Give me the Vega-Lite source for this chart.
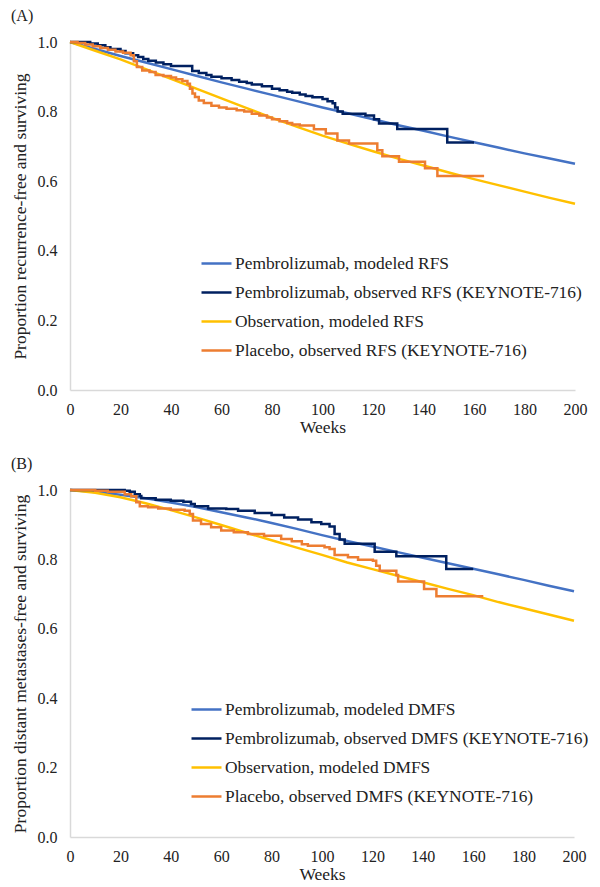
{
  "$schema": "https://vega.github.io/schema/vega-lite/v6.json",
  "padding": {"left": 11, "top": 8, "right": 2, "bottom": 4},
  "background": "white",
  "config": {
    "font": "Liberation Serif",
    "view": {"stroke": null},
    "axis": {"grid": false, "ticks": false, "labelFlush": false, "domainColor": "#d9d9d9", "domainWidth": 1.5, "labelFont": "Liberation Serif", "labelFontSize": 16, "labelColor": "#222222", "titleFont": "Liberation Serif", "titleFontSize": 17.5, "titleFontWeight": "normal", "titleColor": "#222222"},
    "legend": {"labelFont": "Liberation Serif", "labelFontSize": 17.4, "labelColor": "#222222", "labelLimit": 600, "symbolType": "stroke", "symbolSize": 900, "symbolStrokeWidth": 2.5, "labelOffset": 2, "rowPadding": 4, "padding": 0},
    "title": {"font": "Liberation Serif", "fontSize": 16, "fontWeight": "normal", "anchor": "start", "frame": "bounds", "color": "#222222", "offset": 10},
    "concat": {"spacing": 20}
  },
  "resolve": {"scale": {"color": "independent"}, "legend": {"color": "independent"}},
  "datasets": {
    "modeled": [
      {"panel": "A", "series": "Pembrolizumab, modeled RFS", "week": 0, "s": 1.0},
      {"panel": "A", "series": "Pembrolizumab, modeled RFS", "week": 10, "s": 0.980},
      {"panel": "A", "series": "Pembrolizumab, modeled RFS", "week": 20, "s": 0.960},
      {"panel": "A", "series": "Pembrolizumab, modeled RFS", "week": 30, "s": 0.941},
      {"panel": "A", "series": "Pembrolizumab, modeled RFS", "week": 40, "s": 0.922},
      {"panel": "A", "series": "Pembrolizumab, modeled RFS", "week": 50, "s": 0.903},
      {"panel": "A", "series": "Pembrolizumab, modeled RFS", "week": 60, "s": 0.884},
      {"panel": "A", "series": "Pembrolizumab, modeled RFS", "week": 70, "s": 0.866},
      {"panel": "A", "series": "Pembrolizumab, modeled RFS", "week": 80, "s": 0.848},
      {"panel": "A", "series": "Pembrolizumab, modeled RFS", "week": 90, "s": 0.830},
      {"panel": "A", "series": "Pembrolizumab, modeled RFS", "week": 100, "s": 0.812},
      {"panel": "A", "series": "Pembrolizumab, modeled RFS", "week": 110, "s": 0.795},
      {"panel": "A", "series": "Pembrolizumab, modeled RFS", "week": 120, "s": 0.778},
      {"panel": "A", "series": "Pembrolizumab, modeled RFS", "week": 130, "s": 0.761},
      {"panel": "A", "series": "Pembrolizumab, modeled RFS", "week": 140, "s": 0.745},
      {"panel": "A", "series": "Pembrolizumab, modeled RFS", "week": 150, "s": 0.728},
      {"panel": "A", "series": "Pembrolizumab, modeled RFS", "week": 160, "s": 0.712},
      {"panel": "A", "series": "Pembrolizumab, modeled RFS", "week": 170, "s": 0.696},
      {"panel": "A", "series": "Pembrolizumab, modeled RFS", "week": 180, "s": 0.680},
      {"panel": "A", "series": "Pembrolizumab, modeled RFS", "week": 190, "s": 0.665},
      {"panel": "A", "series": "Pembrolizumab, modeled RFS", "week": 200, "s": 0.650},
      {"panel": "A", "series": "Observation, modeled RFS", "week": 0, "s": 1.0},
      {"panel": "A", "series": "Observation, modeled RFS", "week": 10, "s": 0.975},
      {"panel": "A", "series": "Observation, modeled RFS", "week": 20, "s": 0.950},
      {"panel": "A", "series": "Observation, modeled RFS", "week": 30, "s": 0.922},
      {"panel": "A", "series": "Observation, modeled RFS", "week": 40, "s": 0.894},
      {"panel": "A", "series": "Observation, modeled RFS", "week": 50, "s": 0.866},
      {"panel": "A", "series": "Observation, modeled RFS", "week": 60, "s": 0.838},
      {"panel": "A", "series": "Observation, modeled RFS", "week": 70, "s": 0.810},
      {"panel": "A", "series": "Observation, modeled RFS", "week": 80, "s": 0.782},
      {"panel": "A", "series": "Observation, modeled RFS", "week": 90, "s": 0.756},
      {"panel": "A", "series": "Observation, modeled RFS", "week": 100, "s": 0.731},
      {"panel": "A", "series": "Observation, modeled RFS", "week": 110, "s": 0.708},
      {"panel": "A", "series": "Observation, modeled RFS", "week": 120, "s": 0.686},
      {"panel": "A", "series": "Observation, modeled RFS", "week": 130, "s": 0.665},
      {"panel": "A", "series": "Observation, modeled RFS", "week": 140, "s": 0.645},
      {"panel": "A", "series": "Observation, modeled RFS", "week": 150, "s": 0.625},
      {"panel": "A", "series": "Observation, modeled RFS", "week": 160, "s": 0.606},
      {"panel": "A", "series": "Observation, modeled RFS", "week": 170, "s": 0.588},
      {"panel": "A", "series": "Observation, modeled RFS", "week": 180, "s": 0.570},
      {"panel": "A", "series": "Observation, modeled RFS", "week": 190, "s": 0.552},
      {"panel": "A", "series": "Observation, modeled RFS", "week": 200, "s": 0.535},
      {"panel": "B", "series": "Pembrolizumab, modeled DMFS", "week": 0, "s": 1.0},
      {"panel": "B", "series": "Pembrolizumab, modeled DMFS", "week": 10, "s": 0.994},
      {"panel": "B", "series": "Pembrolizumab, modeled DMFS", "week": 20, "s": 0.986},
      {"panel": "B", "series": "Pembrolizumab, modeled DMFS", "week": 30, "s": 0.976},
      {"panel": "B", "series": "Pembrolizumab, modeled DMFS", "week": 40, "s": 0.964},
      {"panel": "B", "series": "Pembrolizumab, modeled DMFS", "week": 50, "s": 0.951},
      {"panel": "B", "series": "Pembrolizumab, modeled DMFS", "week": 60, "s": 0.936},
      {"panel": "B", "series": "Pembrolizumab, modeled DMFS", "week": 70, "s": 0.921},
      {"panel": "B", "series": "Pembrolizumab, modeled DMFS", "week": 80, "s": 0.905},
      {"panel": "B", "series": "Pembrolizumab, modeled DMFS", "week": 90, "s": 0.888},
      {"panel": "B", "series": "Pembrolizumab, modeled DMFS", "week": 100, "s": 0.870},
      {"panel": "B", "series": "Pembrolizumab, modeled DMFS", "week": 110, "s": 0.853},
      {"panel": "B", "series": "Pembrolizumab, modeled DMFS", "week": 120, "s": 0.837},
      {"panel": "B", "series": "Pembrolizumab, modeled DMFS", "week": 130, "s": 0.821},
      {"panel": "B", "series": "Pembrolizumab, modeled DMFS", "week": 140, "s": 0.805},
      {"panel": "B", "series": "Pembrolizumab, modeled DMFS", "week": 150, "s": 0.789},
      {"panel": "B", "series": "Pembrolizumab, modeled DMFS", "week": 160, "s": 0.773},
      {"panel": "B", "series": "Pembrolizumab, modeled DMFS", "week": 170, "s": 0.757},
      {"panel": "B", "series": "Pembrolizumab, modeled DMFS", "week": 180, "s": 0.741},
      {"panel": "B", "series": "Pembrolizumab, modeled DMFS", "week": 190, "s": 0.724},
      {"panel": "B", "series": "Pembrolizumab, modeled DMFS", "week": 200, "s": 0.708},
      {"panel": "B", "series": "Observation, modeled DMFS", "week": 0, "s": 1.0},
      {"panel": "B", "series": "Observation, modeled DMFS", "week": 10, "s": 0.992},
      {"panel": "B", "series": "Observation, modeled DMFS", "week": 20, "s": 0.979},
      {"panel": "B", "series": "Observation, modeled DMFS", "week": 30, "s": 0.962},
      {"panel": "B", "series": "Observation, modeled DMFS", "week": 40, "s": 0.942},
      {"panel": "B", "series": "Observation, modeled DMFS", "week": 50, "s": 0.921},
      {"panel": "B", "series": "Observation, modeled DMFS", "week": 60, "s": 0.899},
      {"panel": "B", "series": "Observation, modeled DMFS", "week": 70, "s": 0.877},
      {"panel": "B", "series": "Observation, modeled DMFS", "week": 80, "s": 0.855},
      {"panel": "B", "series": "Observation, modeled DMFS", "week": 90, "s": 0.834},
      {"panel": "B", "series": "Observation, modeled DMFS", "week": 100, "s": 0.813},
      {"panel": "B", "series": "Observation, modeled DMFS", "week": 110, "s": 0.791},
      {"panel": "B", "series": "Observation, modeled DMFS", "week": 120, "s": 0.772},
      {"panel": "B", "series": "Observation, modeled DMFS", "week": 130, "s": 0.753},
      {"panel": "B", "series": "Observation, modeled DMFS", "week": 140, "s": 0.734},
      {"panel": "B", "series": "Observation, modeled DMFS", "week": 150, "s": 0.715},
      {"panel": "B", "series": "Observation, modeled DMFS", "week": 160, "s": 0.697},
      {"panel": "B", "series": "Observation, modeled DMFS", "week": 170, "s": 0.677},
      {"panel": "B", "series": "Observation, modeled DMFS", "week": 180, "s": 0.659},
      {"panel": "B", "series": "Observation, modeled DMFS", "week": 190, "s": 0.641},
      {"panel": "B", "series": "Observation, modeled DMFS", "week": 200, "s": 0.623}
    ],
    "observed": [
      {"panel": "A", "series": "Pembrolizumab, observed RFS (KEYNOTE-716)", "week": 0, "s": 1.0},
      {"panel": "A", "series": "Pembrolizumab, observed RFS (KEYNOTE-716)", "week": 8, "s": 0.996},
      {"panel": "A", "series": "Pembrolizumab, observed RFS (KEYNOTE-716)", "week": 11, "s": 0.991},
      {"panel": "A", "series": "Pembrolizumab, observed RFS (KEYNOTE-716)", "week": 14, "s": 0.985},
      {"panel": "A", "series": "Pembrolizumab, observed RFS (KEYNOTE-716)", "week": 16, "s": 0.980},
      {"panel": "A", "series": "Pembrolizumab, observed RFS (KEYNOTE-716)", "week": 20, "s": 0.974},
      {"panel": "A", "series": "Pembrolizumab, observed RFS (KEYNOTE-716)", "week": 22, "s": 0.968},
      {"panel": "A", "series": "Pembrolizumab, observed RFS (KEYNOTE-716)", "week": 25, "s": 0.962},
      {"panel": "A", "series": "Pembrolizumab, observed RFS (KEYNOTE-716)", "week": 27, "s": 0.957},
      {"panel": "A", "series": "Pembrolizumab, observed RFS (KEYNOTE-716)", "week": 29, "s": 0.951},
      {"panel": "A", "series": "Pembrolizumab, observed RFS (KEYNOTE-716)", "week": 31, "s": 0.946},
      {"panel": "A", "series": "Pembrolizumab, observed RFS (KEYNOTE-716)", "week": 34, "s": 0.941},
      {"panel": "A", "series": "Pembrolizumab, observed RFS (KEYNOTE-716)", "week": 37, "s": 0.936},
      {"panel": "A", "series": "Pembrolizumab, observed RFS (KEYNOTE-716)", "week": 40, "s": 0.931},
      {"panel": "A", "series": "Pembrolizumab, observed RFS (KEYNOTE-716)", "week": 48.4, "s": 0.917},
      {"panel": "A", "series": "Pembrolizumab, observed RFS (KEYNOTE-716)", "week": 51, "s": 0.911},
      {"panel": "A", "series": "Pembrolizumab, observed RFS (KEYNOTE-716)", "week": 54, "s": 0.905},
      {"panel": "A", "series": "Pembrolizumab, observed RFS (KEYNOTE-716)", "week": 56, "s": 0.900},
      {"panel": "A", "series": "Pembrolizumab, observed RFS (KEYNOTE-716)", "week": 60, "s": 0.896},
      {"panel": "A", "series": "Pembrolizumab, observed RFS (KEYNOTE-716)", "week": 64, "s": 0.891},
      {"panel": "A", "series": "Pembrolizumab, observed RFS (KEYNOTE-716)", "week": 67, "s": 0.886},
      {"panel": "A", "series": "Pembrolizumab, observed RFS (KEYNOTE-716)", "week": 70, "s": 0.882},
      {"panel": "A", "series": "Pembrolizumab, observed RFS (KEYNOTE-716)", "week": 72, "s": 0.878},
      {"panel": "A", "series": "Pembrolizumab, observed RFS (KEYNOTE-716)", "week": 76, "s": 0.873},
      {"panel": "A", "series": "Pembrolizumab, observed RFS (KEYNOTE-716)", "week": 80, "s": 0.866},
      {"panel": "A", "series": "Pembrolizumab, observed RFS (KEYNOTE-716)", "week": 83, "s": 0.861},
      {"panel": "A", "series": "Pembrolizumab, observed RFS (KEYNOTE-716)", "week": 86, "s": 0.857},
      {"panel": "A", "series": "Pembrolizumab, observed RFS (KEYNOTE-716)", "week": 88, "s": 0.854},
      {"panel": "A", "series": "Pembrolizumab, observed RFS (KEYNOTE-716)", "week": 91, "s": 0.849},
      {"panel": "A", "series": "Pembrolizumab, observed RFS (KEYNOTE-716)", "week": 93.3, "s": 0.845},
      {"panel": "A", "series": "Pembrolizumab, observed RFS (KEYNOTE-716)", "week": 96, "s": 0.841},
      {"panel": "A", "series": "Pembrolizumab, observed RFS (KEYNOTE-716)", "week": 100, "s": 0.836},
      {"panel": "A", "series": "Pembrolizumab, observed RFS (KEYNOTE-716)", "week": 102, "s": 0.830},
      {"panel": "A", "series": "Pembrolizumab, observed RFS (KEYNOTE-716)", "week": 104, "s": 0.824},
      {"panel": "A", "series": "Pembrolizumab, observed RFS (KEYNOTE-716)", "week": 105, "s": 0.812},
      {"panel": "A", "series": "Pembrolizumab, observed RFS (KEYNOTE-716)", "week": 106, "s": 0.800},
      {"panel": "A", "series": "Pembrolizumab, observed RFS (KEYNOTE-716)", "week": 108, "s": 0.794},
      {"panel": "A", "series": "Pembrolizumab, observed RFS (KEYNOTE-716)", "week": 117, "s": 0.789},
      {"panel": "A", "series": "Pembrolizumab, observed RFS (KEYNOTE-716)", "week": 120.4, "s": 0.778},
      {"panel": "A", "series": "Pembrolizumab, observed RFS (KEYNOTE-716)", "week": 122.4, "s": 0.766},
      {"panel": "A", "series": "Pembrolizumab, observed RFS (KEYNOTE-716)", "week": 129.6, "s": 0.750},
      {"panel": "A", "series": "Pembrolizumab, observed RFS (KEYNOTE-716)", "week": 149.4, "s": 0.711},
      {"panel": "A", "series": "Pembrolizumab, observed RFS (KEYNOTE-716)", "week": 160, "s": 0.711},
      {"panel": "A", "series": "Placebo, observed RFS (KEYNOTE-716)", "week": 0, "s": 1.0},
      {"panel": "A", "series": "Placebo, observed RFS (KEYNOTE-716)", "week": 3, "s": 0.997},
      {"panel": "A", "series": "Placebo, observed RFS (KEYNOTE-716)", "week": 6, "s": 0.993},
      {"panel": "A", "series": "Placebo, observed RFS (KEYNOTE-716)", "week": 9, "s": 0.988},
      {"panel": "A", "series": "Placebo, observed RFS (KEYNOTE-716)", "week": 12, "s": 0.983},
      {"panel": "A", "series": "Placebo, observed RFS (KEYNOTE-716)", "week": 15, "s": 0.978},
      {"panel": "A", "series": "Placebo, observed RFS (KEYNOTE-716)", "week": 18, "s": 0.973},
      {"panel": "A", "series": "Placebo, observed RFS (KEYNOTE-716)", "week": 21, "s": 0.969},
      {"panel": "A", "series": "Placebo, observed RFS (KEYNOTE-716)", "week": 24, "s": 0.962},
      {"panel": "A", "series": "Placebo, observed RFS (KEYNOTE-716)", "week": 25.3, "s": 0.945},
      {"panel": "A", "series": "Placebo, observed RFS (KEYNOTE-716)", "week": 26.5, "s": 0.928},
      {"panel": "A", "series": "Placebo, observed RFS (KEYNOTE-716)", "week": 28.6, "s": 0.918},
      {"panel": "A", "series": "Placebo, observed RFS (KEYNOTE-716)", "week": 31.5, "s": 0.914},
      {"panel": "A", "series": "Placebo, observed RFS (KEYNOTE-716)", "week": 33.9, "s": 0.905},
      {"panel": "A", "series": "Placebo, observed RFS (KEYNOTE-716)", "week": 37, "s": 0.902},
      {"panel": "A", "series": "Placebo, observed RFS (KEYNOTE-716)", "week": 40, "s": 0.898},
      {"panel": "A", "series": "Placebo, observed RFS (KEYNOTE-716)", "week": 42, "s": 0.893},
      {"panel": "A", "series": "Placebo, observed RFS (KEYNOTE-716)", "week": 44.5, "s": 0.888},
      {"panel": "A", "series": "Placebo, observed RFS (KEYNOTE-716)", "week": 46.5, "s": 0.880},
      {"panel": "A", "series": "Placebo, observed RFS (KEYNOTE-716)", "week": 47.5, "s": 0.866},
      {"panel": "A", "series": "Placebo, observed RFS (KEYNOTE-716)", "week": 48.5, "s": 0.852},
      {"panel": "A", "series": "Placebo, observed RFS (KEYNOTE-716)", "week": 49.5, "s": 0.842},
      {"panel": "A", "series": "Placebo, observed RFS (KEYNOTE-716)", "week": 51, "s": 0.832},
      {"panel": "A", "series": "Placebo, observed RFS (KEYNOTE-716)", "week": 53, "s": 0.825},
      {"panel": "A", "series": "Placebo, observed RFS (KEYNOTE-716)", "week": 56, "s": 0.817},
      {"panel": "A", "series": "Placebo, observed RFS (KEYNOTE-716)", "week": 59, "s": 0.812},
      {"panel": "A", "series": "Placebo, observed RFS (KEYNOTE-716)", "week": 62, "s": 0.808},
      {"panel": "A", "series": "Placebo, observed RFS (KEYNOTE-716)", "week": 66, "s": 0.804},
      {"panel": "A", "series": "Placebo, observed RFS (KEYNOTE-716)", "week": 69, "s": 0.800},
      {"panel": "A", "series": "Placebo, observed RFS (KEYNOTE-716)", "week": 72, "s": 0.794},
      {"panel": "A", "series": "Placebo, observed RFS (KEYNOTE-716)", "week": 75, "s": 0.789},
      {"panel": "A", "series": "Placebo, observed RFS (KEYNOTE-716)", "week": 78, "s": 0.783},
      {"panel": "A", "series": "Placebo, observed RFS (KEYNOTE-716)", "week": 80, "s": 0.778},
      {"panel": "A", "series": "Placebo, observed RFS (KEYNOTE-716)", "week": 83, "s": 0.772},
      {"panel": "A", "series": "Placebo, observed RFS (KEYNOTE-716)", "week": 86, "s": 0.767},
      {"panel": "A", "series": "Placebo, observed RFS (KEYNOTE-716)", "week": 88, "s": 0.763},
      {"panel": "A", "series": "Placebo, observed RFS (KEYNOTE-716)", "week": 91, "s": 0.760},
      {"panel": "A", "series": "Placebo, observed RFS (KEYNOTE-716)", "week": 96.6, "s": 0.749},
      {"panel": "A", "series": "Placebo, observed RFS (KEYNOTE-716)", "week": 101.3, "s": 0.737},
      {"panel": "A", "series": "Placebo, observed RFS (KEYNOTE-716)", "week": 105.9, "s": 0.717},
      {"panel": "A", "series": "Placebo, observed RFS (KEYNOTE-716)", "week": 110.5, "s": 0.708},
      {"panel": "A", "series": "Placebo, observed RFS (KEYNOTE-716)", "week": 121.7, "s": 0.689},
      {"panel": "A", "series": "Placebo, observed RFS (KEYNOTE-716)", "week": 123.7, "s": 0.672},
      {"panel": "A", "series": "Placebo, observed RFS (KEYNOTE-716)", "week": 130.3, "s": 0.656},
      {"panel": "A", "series": "Placebo, observed RFS (KEYNOTE-716)", "week": 140.6, "s": 0.637},
      {"panel": "A", "series": "Placebo, observed RFS (KEYNOTE-716)", "week": 145.5, "s": 0.615},
      {"panel": "A", "series": "Placebo, observed RFS (KEYNOTE-716)", "week": 164, "s": 0.615},
      {"panel": "B", "series": "Pembrolizumab, observed DMFS (KEYNOTE-716)", "week": 0, "s": 1.0},
      {"panel": "B", "series": "Pembrolizumab, observed DMFS (KEYNOTE-716)", "week": 21.7, "s": 0.998},
      {"panel": "B", "series": "Pembrolizumab, observed DMFS (KEYNOTE-716)", "week": 23.7, "s": 0.995},
      {"panel": "B", "series": "Pembrolizumab, observed DMFS (KEYNOTE-716)", "week": 25.7, "s": 0.988},
      {"panel": "B", "series": "Pembrolizumab, observed DMFS (KEYNOTE-716)", "week": 27.7, "s": 0.983},
      {"panel": "B", "series": "Pembrolizumab, observed DMFS (KEYNOTE-716)", "week": 28.3, "s": 0.976},
      {"panel": "B", "series": "Pembrolizumab, observed DMFS (KEYNOTE-716)", "week": 34, "s": 0.972},
      {"panel": "B", "series": "Pembrolizumab, observed DMFS (KEYNOTE-716)", "week": 40, "s": 0.969},
      {"panel": "B", "series": "Pembrolizumab, observed DMFS (KEYNOTE-716)", "week": 45, "s": 0.966},
      {"panel": "B", "series": "Pembrolizumab, observed DMFS (KEYNOTE-716)", "week": 48, "s": 0.960},
      {"panel": "B", "series": "Pembrolizumab, observed DMFS (KEYNOTE-716)", "week": 49.5, "s": 0.953},
      {"panel": "B", "series": "Pembrolizumab, observed DMFS (KEYNOTE-716)", "week": 54.8, "s": 0.947},
      {"panel": "B", "series": "Pembrolizumab, observed DMFS (KEYNOTE-716)", "week": 62, "s": 0.945},
      {"panel": "B", "series": "Pembrolizumab, observed DMFS (KEYNOTE-716)", "week": 66.7, "s": 0.940},
      {"panel": "B", "series": "Pembrolizumab, observed DMFS (KEYNOTE-716)", "week": 73.3, "s": 0.934},
      {"panel": "B", "series": "Pembrolizumab, observed DMFS (KEYNOTE-716)", "week": 80, "s": 0.928},
      {"panel": "B", "series": "Pembrolizumab, observed DMFS (KEYNOTE-716)", "week": 85, "s": 0.921},
      {"panel": "B", "series": "Pembrolizumab, observed DMFS (KEYNOTE-716)", "week": 90.5, "s": 0.915},
      {"panel": "B", "series": "Pembrolizumab, observed DMFS (KEYNOTE-716)", "week": 95.8, "s": 0.907},
      {"panel": "B", "series": "Pembrolizumab, observed DMFS (KEYNOTE-716)", "week": 99.7, "s": 0.902},
      {"panel": "B", "series": "Pembrolizumab, observed DMFS (KEYNOTE-716)", "week": 103, "s": 0.895},
      {"panel": "B", "series": "Pembrolizumab, observed DMFS (KEYNOTE-716)", "week": 105, "s": 0.873},
      {"panel": "B", "series": "Pembrolizumab, observed DMFS (KEYNOTE-716)", "week": 107, "s": 0.857},
      {"panel": "B", "series": "Pembrolizumab, observed DMFS (KEYNOTE-716)", "week": 109, "s": 0.845},
      {"panel": "B", "series": "Pembrolizumab, observed DMFS (KEYNOTE-716)", "week": 120.9, "s": 0.822},
      {"panel": "B", "series": "Pembrolizumab, observed DMFS (KEYNOTE-716)", "week": 129.5, "s": 0.809},
      {"panel": "B", "series": "Pembrolizumab, observed DMFS (KEYNOTE-716)", "week": 149.3, "s": 0.772},
      {"panel": "B", "series": "Pembrolizumab, observed DMFS (KEYNOTE-716)", "week": 160, "s": 0.772},
      {"panel": "B", "series": "Placebo, observed DMFS (KEYNOTE-716)", "week": 0, "s": 1.0},
      {"panel": "B", "series": "Placebo, observed DMFS (KEYNOTE-716)", "week": 10, "s": 0.998},
      {"panel": "B", "series": "Placebo, observed DMFS (KEYNOTE-716)", "week": 15, "s": 0.995},
      {"panel": "B", "series": "Placebo, observed DMFS (KEYNOTE-716)", "week": 21.7, "s": 0.988},
      {"panel": "B", "series": "Placebo, observed DMFS (KEYNOTE-716)", "week": 24.3, "s": 0.982},
      {"panel": "B", "series": "Placebo, observed DMFS (KEYNOTE-716)", "week": 26.3, "s": 0.965},
      {"panel": "B", "series": "Placebo, observed DMFS (KEYNOTE-716)", "week": 27.7, "s": 0.953},
      {"panel": "B", "series": "Placebo, observed DMFS (KEYNOTE-716)", "week": 31, "s": 0.950},
      {"panel": "B", "series": "Placebo, observed DMFS (KEYNOTE-716)", "week": 35, "s": 0.947},
      {"panel": "B", "series": "Placebo, observed DMFS (KEYNOTE-716)", "week": 40, "s": 0.943},
      {"panel": "B", "series": "Placebo, observed DMFS (KEYNOTE-716)", "week": 45.5, "s": 0.940},
      {"panel": "B", "series": "Placebo, observed DMFS (KEYNOTE-716)", "week": 47.5, "s": 0.931},
      {"panel": "B", "series": "Placebo, observed DMFS (KEYNOTE-716)", "week": 48.8, "s": 0.912},
      {"panel": "B", "series": "Placebo, observed DMFS (KEYNOTE-716)", "week": 52, "s": 0.902},
      {"panel": "B", "series": "Placebo, observed DMFS (KEYNOTE-716)", "week": 56, "s": 0.893},
      {"panel": "B", "series": "Placebo, observed DMFS (KEYNOTE-716)", "week": 60, "s": 0.883},
      {"panel": "B", "series": "Placebo, observed DMFS (KEYNOTE-716)", "week": 65, "s": 0.878},
      {"panel": "B", "series": "Placebo, observed DMFS (KEYNOTE-716)", "week": 70.6, "s": 0.873},
      {"panel": "B", "series": "Placebo, observed DMFS (KEYNOTE-716)", "week": 77, "s": 0.868},
      {"panel": "B", "series": "Placebo, observed DMFS (KEYNOTE-716)", "week": 83.8, "s": 0.859},
      {"panel": "B", "series": "Placebo, observed DMFS (KEYNOTE-716)", "week": 88, "s": 0.852},
      {"panel": "B", "series": "Placebo, observed DMFS (KEYNOTE-716)", "week": 92, "s": 0.844},
      {"panel": "B", "series": "Placebo, observed DMFS (KEYNOTE-716)", "week": 94.4, "s": 0.839},
      {"panel": "B", "series": "Placebo, observed DMFS (KEYNOTE-716)", "week": 101, "s": 0.835},
      {"panel": "B", "series": "Placebo, observed DMFS (KEYNOTE-716)", "week": 103, "s": 0.830},
      {"panel": "B", "series": "Placebo, observed DMFS (KEYNOTE-716)", "week": 105, "s": 0.813},
      {"panel": "B", "series": "Placebo, observed DMFS (KEYNOTE-716)", "week": 110.3, "s": 0.806},
      {"panel": "B", "series": "Placebo, observed DMFS (KEYNOTE-716)", "week": 114.3, "s": 0.799},
      {"panel": "B", "series": "Placebo, observed DMFS (KEYNOTE-716)", "week": 120.2, "s": 0.796},
      {"panel": "B", "series": "Placebo, observed DMFS (KEYNOTE-716)", "week": 121.5, "s": 0.782},
      {"panel": "B", "series": "Placebo, observed DMFS (KEYNOTE-716)", "week": 122.9, "s": 0.767},
      {"panel": "B", "series": "Placebo, observed DMFS (KEYNOTE-716)", "week": 129.5, "s": 0.755},
      {"panel": "B", "series": "Placebo, observed DMFS (KEYNOTE-716)", "week": 130.2, "s": 0.736},
      {"panel": "B", "series": "Placebo, observed DMFS (KEYNOTE-716)", "week": 140.5, "s": 0.715},
      {"panel": "B", "series": "Placebo, observed DMFS (KEYNOTE-716)", "week": 145.4, "s": 0.694},
      {"panel": "B", "series": "Placebo, observed DMFS (KEYNOTE-716)", "week": 164, "s": 0.694}
    ]
  },
  "vconcat": [
    {
      "title": {"text": "(A)"},
      "width": 505,
      "height": 348,
      "layer": [
        {
          "data": {"name": "modeled"},
          "transform": [{"filter": "datum.panel === 'A'"}],
          "mark": {"type": "line", "strokeWidth": 2.5, "interpolate": "linear"},
          "encoding": {
            "x": {"field": "week", "type": "quantitative", "scale": {"domain": [0, 200], "nice": false}, "axis": {"title": "Weeks", "values": [0, 20, 40, 60, 80, 100, 120, 140, 160, 180, 200], "labelPadding": 11, "titlePadding": 1}},
            "y": {"field": "s", "type": "quantitative", "scale": {"domain": [0, 1], "nice": false}, "axis": {"title": "Proportion recurrence-free and surviving", "values": [0, 0.2, 0.4, 0.6, 0.8, 1.0], "format": ".1f", "labelPadding": 13, "titlePadding": 8}},
            "color": {"field": "series", "type": "nominal", "sort": null, "scale": {"domain": ["Pembrolizumab, modeled RFS", "Pembrolizumab, observed RFS (KEYNOTE-716)", "Observation, modeled RFS", "Placebo, observed RFS (KEYNOTE-716)"], "range": ["#4472C4", "#002060", "#FFC000", "#ED7D31"]}, "legend": {"title": null, "orient": "none", "legendX": 130, "legendY": 205}}
          }
        },
        {
          "data": {"name": "observed"},
          "transform": [{"filter": "datum.panel === 'A'"}],
          "mark": {"type": "line", "strokeWidth": 2.5, "interpolate": "step-after"},
          "encoding": {
            "x": {"field": "week", "type": "quantitative"},
            "y": {"field": "s", "type": "quantitative"},
            "color": {"field": "series", "type": "nominal"}
          }
        }
      ]
    },
    {
      "title": {"text": "(B)"},
      "width": 504,
      "height": 347,
      "layer": [
        {
          "data": {"name": "modeled"},
          "transform": [{"filter": "datum.panel === 'B'"}],
          "mark": {"type": "line", "strokeWidth": 2.5, "interpolate": "linear"},
          "encoding": {
            "x": {"field": "week", "type": "quantitative", "scale": {"domain": [0, 200], "nice": false}, "axis": {"title": "Weeks", "values": [0, 20, 40, 60, 80, 100, 120, 140, 160, 180, 200], "labelPadding": 11, "titlePadding": 1}},
            "y": {"field": "s", "type": "quantitative", "scale": {"domain": [0, 1], "nice": false}, "axis": {"title": "Proportion distant metastases-free and surviving", "values": [0, 0.2, 0.4, 0.6, 0.8, 1.0], "format": ".1f", "labelPadding": 13, "titlePadding": 8}},
            "color": {"field": "series", "type": "nominal", "sort": null, "scale": {"domain": ["Pembrolizumab, modeled DMFS", "Pembrolizumab, observed DMFS (KEYNOTE-716)", "Observation, modeled DMFS", "Placebo, observed DMFS (KEYNOTE-716)"], "range": ["#4472C4", "#002060", "#FFC000", "#ED7D31"]}, "legend": {"title": null, "orient": "none", "legendX": 120, "legendY": 203}}
          }
        },
        {
          "data": {"name": "observed"},
          "transform": [{"filter": "datum.panel === 'B'"}],
          "mark": {"type": "line", "strokeWidth": 2.5, "interpolate": "step-after"},
          "encoding": {
            "x": {"field": "week", "type": "quantitative"},
            "y": {"field": "s", "type": "quantitative"},
            "color": {"field": "series", "type": "nominal"}
          }
        }
      ]
    }
  ]
}
